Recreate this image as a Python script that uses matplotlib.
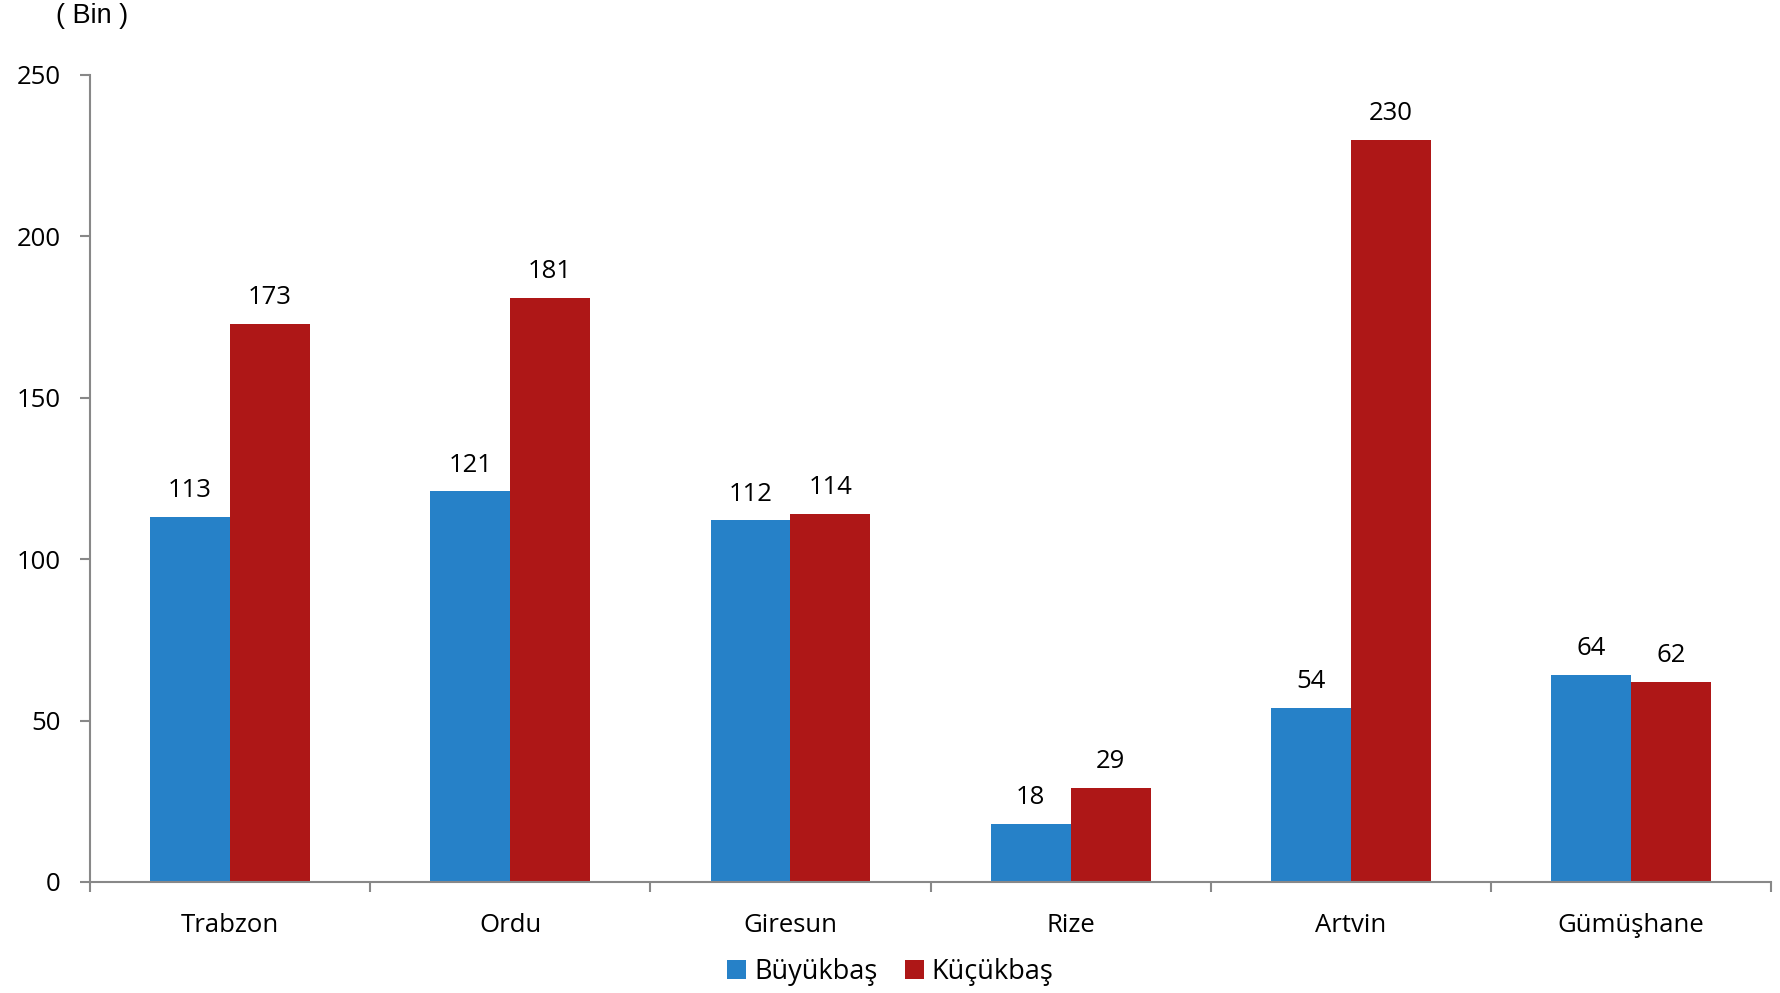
import matplotlib
matplotlib.use("Agg")
import matplotlib.pyplot as plt
import numpy as np

categories = ["Trabzon", "Ordu", "Giresun", "Rize", "Artvin", "Gümüşhane"]
buyukbas = [113, 121, 112, 18, 54, 64]
kucukbas = [173, 181, 114, 29, 230, 62]
series_names = ["Büyükbaş", "Küçükbaş"]
yticks = [0, 50, 100, 150, 200, 250]

plt.rcParams['font.family'] = ['Open Sans', 'DejaVu Sans']

fig = plt.figure(figsize=(17.81, 9.93), dpi=100)
ax = fig.add_axes([0.0505, 0.1118, 0.944, 0.8127])

blue = "#2681C8"
red = "#AE1717"
fs = 18.5
x = np.arange(len(categories))
w = 0.285
b1 = ax.bar(x - w/2, buyukbas, w, color=blue, label=series_names[0])
b2 = ax.bar(x + w/2, kucukbas, w, color=red, label=series_names[1])

for bars, vals in ((b1, buyukbas), (b2, kucukbas)):
    for rect, v in zip(bars, vals):
        ax.annotate(str(v), (rect.get_x() + rect.get_width()/2, v), xytext=(0, 10),
                    textcoords="offset points", ha="center", va="bottom", fontsize=fs)

ax.set_xlim(-0.5, len(categories) - 0.5)
ax.set_ylim(0, 250)
ax.set_yticks(yticks)
ax.set_yticklabels([str(t) for t in yticks], fontsize=fs)
ax.tick_params(axis='y', length=7, width=1.5, color="#888888", pad=14)

ax.set_xticks(np.arange(-0.5, len(categories), 1.0))
ax.set_xticklabels([])
ax.set_xticks(x, minor=True)
ax.set_xticklabels(categories, minor=True, fontsize=fs)
ax.tick_params(axis='x', which='major', length=7, width=1.5, color="#888888", direction='out')
ax.tick_params(axis='x', which='minor', length=0, pad=22)

for s in ['top', 'right']:
    ax.spines[s].set_visible(False)
for s in ['left', 'bottom']:
    ax.spines[s].set_color("#888888")
    ax.spines[s].set_linewidth(1.5)

fig.text(0.0515, 0.984, "( Bin )", fontsize=19.5, ha="center", va="center",
         family=['Liberation Sans', 'DejaVu Sans'])

leg = fig.legend(handles=[b1, b2], labels=series_names, loc="center", bbox_to_anchor=(0.5, 0.021),
                 ncol=2, frameon=False, fontsize=19.5, handlelength=0.7, handleheight=0.7,
                 handletextpad=0.3, columnspacing=1.0)

fig.savefig("out.png", dpi=100)
